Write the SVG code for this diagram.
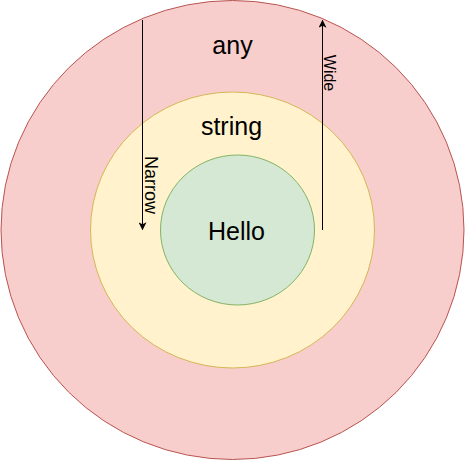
<svg xmlns="http://www.w3.org/2000/svg" width="465" height="460" viewBox="0 0 465 460">
<style>
text{font-family:"Liberation Sans",Arial,Helvetica,sans-serif;fill:#000}
.lbl{font-size:25px;text-anchor:middle}
.edge{stroke:#000;stroke-width:1;fill:none}
</style>
<defs>
<marker id="arr" viewBox="0 0 10 10" refX="9" refY="5" markerWidth="8" markerHeight="8" markerUnits="userSpaceOnUse" orient="auto">
<path d="M0,0 L10,5 L0,10 L2.5,5 Z" fill="#000"/>
</marker>
</defs>
<rect width="465" height="460" fill="#fff"/>
<g id="any">
<ellipse cx="232.5" cy="230" rx="231.5" ry="229.5" fill="#f8cecc" stroke="#b85450"/>
<text class="lbl" x="232.5" y="53.5">any</text>
</g>
<g id="string">
<ellipse cx="232.5" cy="230" rx="142" ry="138" fill="#fff2cc" stroke="#d6b656"/>
<text class="lbl" x="231.5" y="134.5">string</text>
</g>
<g id="hello">
<ellipse cx="237.5" cy="230" rx="77" ry="75" fill="#d5e8d4" stroke="#82b366"/>
<text class="lbl" x="236.5" y="239.5">Hello</text>
</g>
<g id="connectors">
<line class="edge" x1="142.5" y1="20" x2="142.5" y2="229.5" marker-end="url(#arr)"/>
<text font-size="18" text-anchor="middle" transform="translate(145,185) rotate(90)">Narrow</text>
<line class="edge" x1="322.5" y1="230" x2="322.5" y2="20.5" marker-end="url(#arr)"/>
<text font-size="16" text-anchor="middle" transform="translate(323.5,73) rotate(90)">Wide</text>
</g>
</svg>
